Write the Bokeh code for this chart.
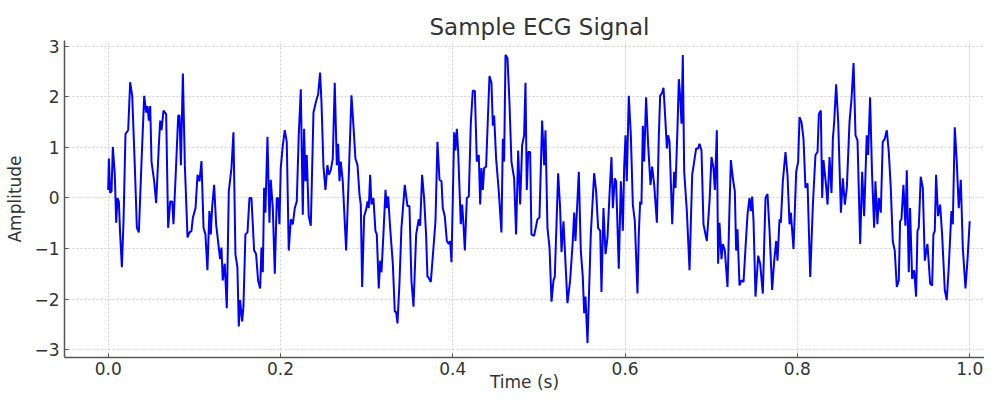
from bokeh.plotting import figure
from bokeh.models import Range1d, FixedTicker
from bokeh.embed import file_html
from bokeh.resources import INLINE

# ---------------- data ----------------
title_text = "Sample ECG Signal"
x_label = "Time (s)"
y_label = "Amplitude"

x_ticks = [0.0, 0.2, 0.4, 0.6, 0.8, 1.0]
x_tick_labels = ["0.0", "0.2", "0.4", "0.6", "0.8", "1.0"]
y_ticks = [-3, -2, -1, 0, 1, 2, 3]
y_tick_labels = ["\u22123", "\u22122", "\u22121", "0", "1", "2", "3"]

time_s = [
    # 0.00 - 0.11
    0.0000, 0.0008, 0.0023, 0.0039, 0.0054, 0.0077, 0.0093, 0.0108, 0.0124, 0.0139,
    0.0159, 0.0178, 0.0201, 0.0232, 0.0255, 0.0279, 0.0310, 0.0333, 0.0356, 0.0387,
    0.0418, 0.0441, 0.0457, 0.0472, 0.0488, 0.0503, 0.0534, 0.0557, 0.0588, 0.0604,
    0.0619, 0.0642, 0.0673, 0.0696, 0.0720, 0.0743, 0.0758, 0.0782, 0.0813, 0.0828,
    0.0844, 0.0867, 0.0890, 0.0921, 0.0944, 0.0967, 0.0983, 0.1014, 0.1037, 0.1060,
    0.1083, 0.1107,
    # 0.11 - 0.24
    0.1129, 0.1152, 0.1175, 0.1191, 0.1206, 0.1230, 0.1253, 0.1284, 0.1299, 0.1315,
    0.1330, 0.1353, 0.1377, 0.1400, 0.1431, 0.1454, 0.1477, 0.1500, 0.1516, 0.1531,
    0.1555, 0.1570, 0.1593, 0.1617, 0.1640, 0.1663, 0.1694, 0.1717, 0.1740, 0.1764,
    0.1779, 0.1795, 0.1810, 0.1825, 0.1849, 0.1872, 0.1887, 0.1911, 0.1934, 0.1957,
    0.1972, 0.1988, 0.2003, 0.2027, 0.2050, 0.2073, 0.2096, 0.2120, 0.2143, 0.2166,
    0.2189, 0.2212, 0.2236, 0.2259, 0.2274, 0.2290, 0.2305, 0.2328, 0.2352, 0.2383,
    0.2414,
    # 0.24 - 0.37
    0.2437, 0.2460, 0.2476, 0.2499, 0.2522, 0.2545, 0.2561, 0.2584, 0.2607, 0.2630,
    0.2654, 0.2669, 0.2685, 0.2700, 0.2723, 0.2762, 0.2793, 0.2824, 0.2847, 0.2870,
    0.2894, 0.2917, 0.2932, 0.2948, 0.2971, 0.2994, 0.3010, 0.3025, 0.3041, 0.3056,
    0.3079, 0.3102, 0.3118, 0.3141, 0.3157, 0.3172, 0.3195, 0.3219, 0.3234, 0.3250,
    0.3273, 0.3304, 0.3327, 0.3342, 0.3358, 0.3381, 0.3404, 0.3443, 0.3474, 0.3497,
    0.3520, 0.3544, 0.3575, 0.3605, 0.3621, 0.3644, 0.3667, 0.3690, 0.3706,
    # 0.37 - 0.50
    0.3714, 0.3745, 0.3776, 0.3799, 0.3822, 0.3846, 0.3869, 0.3884, 0.3907, 0.3931,
    0.3954, 0.3969, 0.3985, 0.4016, 0.4031, 0.4047, 0.4062, 0.4093, 0.4109, 0.4124,
    0.4140, 0.4163, 0.4186, 0.4209, 0.4232, 0.4256, 0.4279, 0.4302, 0.4318, 0.4333,
    0.4349, 0.4364, 0.4387, 0.4403, 0.4426, 0.4449, 0.4465, 0.4480, 0.4503, 0.4534,
    0.4565, 0.4581, 0.4596, 0.4612, 0.4635, 0.4658, 0.4681, 0.4712, 0.4735, 0.4759,
    0.4782, 0.4805, 0.4828, 0.4844, 0.4859, 0.4875, 0.4898, 0.4913, 0.4944,
    # 0.50 - 0.63
    0.4983, 0.5006, 0.5037, 0.5061, 0.5076, 0.5099, 0.5123, 0.5146, 0.5169, 0.5184,
    0.5223, 0.5246, 0.5262, 0.5285, 0.5331, 0.5362, 0.5393, 0.5409, 0.5424, 0.5463,
    0.5486, 0.5509, 0.5525, 0.5540, 0.5564, 0.5602, 0.5641, 0.5664, 0.5687, 0.5711,
    0.5726, 0.5749, 0.5773, 0.5796, 0.5819, 0.5842, 0.5858, 0.5881, 0.5896, 0.5927,
    0.5951, 0.5974, 0.5989, 0.6005, 0.6020, 0.6043, 0.6067, 0.6090, 0.6113, 0.6144,
    0.6159, 0.6175, 0.6190, 0.6206, 0.6221, 0.6244, 0.6268, 0.6295,
    # 0.63 - 0.75
    0.6314, 0.6338, 0.6369, 0.6392, 0.6407, 0.6430, 0.6446, 0.6469, 0.6485, 0.6500,
    0.6516, 0.6547, 0.6570, 0.6585, 0.6608, 0.6624, 0.6639, 0.6655, 0.6670, 0.6686,
    0.6717, 0.6748, 0.6779, 0.6802, 0.6825, 0.6848, 0.6864, 0.6887, 0.6910, 0.6949,
    0.6980, 0.7003, 0.7026, 0.7042, 0.7065, 0.7080, 0.7096, 0.7119, 0.7135, 0.7158,
    0.7189, 0.7212, 0.7228, 0.7251, 0.7274, 0.7289, 0.7305, 0.7328, 0.7351, 0.7375,
    0.7398, 0.7421, 0.7444, 0.7460, 0.7475, 0.7491, 0.7514,
    # 0.75 - 0.88
    0.7545, 0.7568, 0.7599, 0.7630, 0.7653, 0.7677, 0.7707, 0.7731, 0.7754, 0.7769,
    0.7793, 0.7808, 0.7831, 0.7862, 0.7885, 0.7909, 0.7924, 0.7955, 0.7986, 0.8009,
    0.8025, 0.8048, 0.8071, 0.8094, 0.8118, 0.8149, 0.8180, 0.8210, 0.8234, 0.8249,
    0.8272, 0.8288, 0.8303, 0.8334, 0.8350, 0.8373, 0.8396, 0.8412, 0.8427, 0.8450,
    0.8474, 0.8505, 0.8528, 0.8551, 0.8574, 0.8605, 0.8628, 0.8652, 0.8675, 0.8698,
    0.8729, 0.8752, 0.8775,
    # 0.88 - 1.00
    0.8805, 0.8821, 0.8844, 0.8867, 0.8891, 0.8906, 0.8929, 0.8945, 0.8968, 0.8991,
    0.9014, 0.9038, 0.9061, 0.9084, 0.9107, 0.9130, 0.9154, 0.9177, 0.9192, 0.9208,
    0.9231, 0.9254, 0.9270, 0.9293, 0.9308, 0.9332, 0.9355, 0.9378, 0.9394, 0.9409,
    0.9432, 0.9456, 0.9479, 0.9510, 0.9541, 0.9564, 0.9579, 0.9595, 0.9610, 0.9633,
    0.9657, 0.9680, 0.9711, 0.9734, 0.9757, 0.9788, 0.9804, 0.9827, 0.9850, 0.9873,
    0.9897, 0.9920, 0.9951, 0.9974, 1.0000,
]

amplitude = [
    # 0.00 - 0.11
    0.16, 0.78, 0.10, 0.13, 1.01, 0.46, -0.49, 0.00, -0.07, -0.72,
    -1.37, -0.46, 1.27, 1.34, 2.29, 2.02, 0.59, -0.59, -0.68, 0.72,
    2.02, 1.69, 1.82, 1.53, 1.82, 0.72, 0.33, -0.10, 1.04, 1.53,
    1.34, 1.73, 1.66, -0.59, -0.07, -0.07, -0.52, 0.39, 1.63, 1.63,
    0.65, 2.46, 0.65, -0.78, -0.68, -0.65, -0.39, -0.20, 0.46, 0.33,
    0.73, -0.59,
    # 0.11 - 0.24
    -0.72, -1.43, -0.26, -0.72, -0.20, 0.26, -0.52, -0.98, -1.21, -0.98,
    -1.63, -1.30, -2.18, 0.13, 0.59, 1.30, -1.11, -1.37, -2.54, -2.02,
    -2.44, -2.15, -0.72, -0.68, 0.00, 0.00, -1.04, -1.11, -1.63, -1.79,
    -0.98, -1.47, 0.20, -0.29, 1.21, -0.49, 0.36, -0.20, -1.50, 0.00,
    0.00, -0.52, 0.59, 1.04, 1.34, 1.11, -1.04, -0.42, -0.52, -0.20,
    -0.07, 1.24, 2.15, -0.33, 1.37, 0.33, 0.85, -0.36, -0.55, 1.69,
    1.92,
    # 0.24 - 0.37
    2.05, 2.48, 1.89, 0.62, 0.16, 0.65, 0.46, 0.55, 0.78, 2.28,
    0.65, 1.07, 0.33, 0.72, 0.33, -1.04, 0.46, 2.03, 1.43, 0.78,
    0.65, 0.07, -0.13, -1.76, -0.36, -0.23, -0.07, -0.20, 0.46, -0.13,
    0.00, -0.65, -0.72, -1.79, -1.24, -1.47, -0.72, 0.16, -0.20, 0.03,
    -0.59, -1.30, -2.25, -2.25, -2.48, -1.69, -0.59, 0.26, -0.16, -0.16,
    -1.63, -2.15, -0.72, -0.42, -0.55, 0.46, 0.00, -0.72, -1.56,
    # 0.37 - 0.50
    -1.56, -1.66, -0.98, -0.46, 1.11, 0.36, 0.33, -0.20, -0.36, -0.85,
    -0.91, -0.85, -1.27, 1.30, 0.94, 1.37, 0.94, -0.52, -0.13, -0.52,
    -1.04, 0.00, 0.03, 1.47, 2.12, 2.12, 0.72, 0.85, -0.13, 0.59,
    0.16, 0.59, 0.62, 1.37, 2.41, 2.28, 1.43, 1.63, 0.78, 0.13,
    -0.68, 1.17, 0.72, 2.83, 2.77, 1.89, 0.72, 0.39, -0.72, 0.94,
    -0.13, 1.04, 1.24, 2.28, 0.16, 0.91, 0.91, -0.72, -0.75,
    # 0.50 - 0.63
    -0.42, -0.39, 1.53, 0.65, 1.34, -0.59, -0.98, -2.05, -1.63, -1.56,
    0.49, -0.20, -1.07, -0.46, -2.08, -1.63, -0.85, -0.29, -0.85, 0.52,
    -1.04, -1.56, -2.28, -1.95, -2.87, -0.72, 0.49, 0.13, -0.59, -0.65,
    -1.86, -0.20, -1.11, -0.78, 0.07, 0.81, -0.20, 0.39, 0.33, -1.40,
    0.33, -0.65, 0.59, 1.24, 0.33, 2.02, 1.24, -0.13, -0.46, -1.89,
    -0.72, -0.07, -0.13, 1.43, 0.72, 1.99, 1.04, 0.26,
    # 0.63 - 0.75
    0.62, 0.26, -0.49, 1.24, 2.02, 2.08, 2.18, 1.50, 0.98, 1.24,
    1.11, -0.52, 0.52, 0.20, 1.37, 2.35, 2.02, 1.47, 2.83, 0.52,
    -0.26, -1.43, 0.46, 0.72, 0.98, 0.98, 1.07, 0.94, -0.52, -0.85,
    -0.07, 0.81, 0.59, 0.16, 1.34, -1.30, -0.49, -1.21, -0.91, -1.04,
    -1.76, -0.20, 0.75, 0.39, 0.13, -1.04, -0.62, -1.73, -1.63, -1.66,
    -0.98, -0.33, 0.00, -0.26, 0.03, -0.46, -1.95,
    # 0.75 - 0.88
    -1.14, -1.30, -1.89, 0.00, 0.08, -0.65, -1.82, -1.24, -0.85, -1.24,
    -0.42, -0.49, 0.33, 0.91, 0.46, -0.52, -0.29, -1.01, 0.52, 0.72,
    1.60, 1.50, 1.17, 0.20, 0.29, -1.56, -0.13, 0.85, 0.91, 1.66,
    1.73, 0.00, 0.75, 0.23, -0.13, 0.81, 0.10, 1.17, 1.50, 2.25,
    1.50, -0.29, 0.39, -0.13, 0.20, 1.50, 1.95, 2.67, 1.24, 1.14,
    -0.91, 0.52, -0.36,
    # 0.88 - 1.00
    1.24, 0.85, 1.99, 0.46, -0.59, 0.33, -0.52, 0.00, -0.29, 1.11,
    1.17, 1.34, 0.91, 0.20, -0.85, -1.04, -1.76, -1.63, -0.46, -0.42,
    0.26, -0.55, 0.55, -1.47, -0.20, -1.60, -1.43, -1.95, -0.65, -0.59,
    0.42, 0.20, -1.24, -0.91, -1.69, -1.73, -0.72, -0.65, 0.46, -0.36,
    -0.13, -0.72, -1.82, -2.02, -1.37, -0.26, -0.52, 1.40, 0.72, -0.20,
    0.36, -0.98, -1.79, -1.24, -0.46,
]

n = min(len(time_s), len(amplitude))
time_s = time_s[:n]
amplitude = amplitude[:n]

# ---------------- styling ----------------
FONT = "DejaVu Sans"
TEXT = "#333333"
SPINE = "#555555"

p = figure(
    width=984, height=394,
    output_backend="svg", toolbar_location=None,
    x_range=Range1d(-0.0507, 1.0172),
    y_range=Range1d(-3.155, 3.115),
    min_border_left=64, min_border_right=0,
    min_border_top=40, min_border_bottom=30,
)
p.outline_line_color = None
p.background_fill_color = "white"
p.border_fill_color = "white"

p.title.text = title_text
p.title.align = "left"
p.title.offset = 365
p.title.text_font = FONT
p.title.text_font_size = "23px"
p.title.text_font_style = "normal"
p.title.text_color = TEXT
p.title.standoff = 2

p.line(time_s, amplitude, line_color="#0000ff", line_width=2)

p.xaxis.ticker = FixedTicker(ticks=x_ticks)
p.yaxis.ticker = FixedTicker(ticks=y_ticks)
p.xaxis.major_label_overrides = {t: s for t, s in zip(x_ticks, x_tick_labels)}
p.yaxis.major_label_overrides = {t: s for t, s in zip(y_ticks, y_tick_labels)}

for ax in (p.xaxis[0], p.yaxis[0]):
    ax.axis_line_color = SPINE
    ax.axis_line_width = 1.5
    ax.major_tick_line_color = SPINE
    ax.major_tick_in = 4
    ax.major_tick_out = 0
    ax.minor_tick_in = 0
    ax.minor_tick_out = 0
    ax.major_label_text_font = FONT
    ax.major_label_text_font_size = "17px"
    ax.major_label_text_color = TEXT
    ax.axis_label_text_font = FONT
    ax.axis_label_text_font_size = "17px"
    ax.axis_label_text_font_style = "normal"
    ax.axis_label_text_color = TEXT

p.xaxis.axis_label = x_label
p.xaxis.major_label_standoff = 4
p.xaxis.axis_label_standoff = -6
p.yaxis.axis_label = y_label
p.yaxis.major_label_standoff = 5
p.yaxis.axis_label_standoff = 6

p.xgrid.ticker = FixedTicker(ticks=x_ticks)
p.ygrid.ticker = FixedTicker(ticks=y_ticks)
for g in (p.xgrid[0], p.ygrid[0]):
    g.grid_line_color = "#cfcfcf"
    g.grid_line_dash = "2 2"
    g.grid_line_width = 1

open("out.html", "w").write(file_html(p, INLINE))
